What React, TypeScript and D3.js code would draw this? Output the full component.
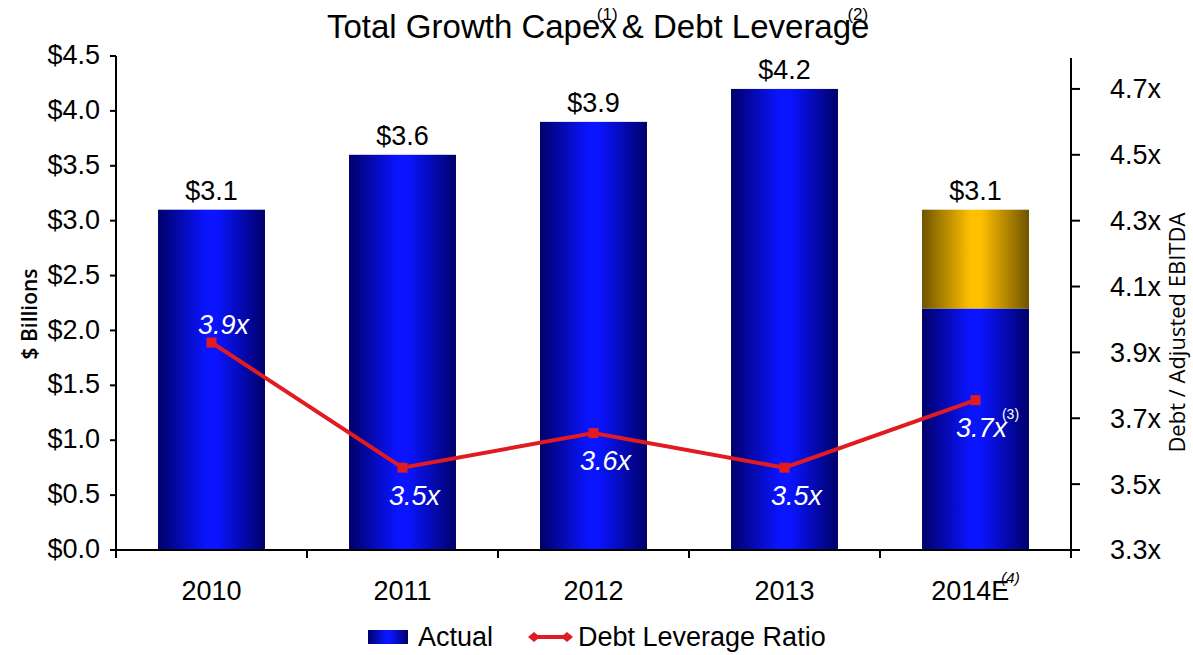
import React from 'react';
import * as d3 from 'd3';

const years = ['2010', '2011', '2012', '2013', '2014E'];
const capexActual = [3.1, 3.6, 3.9, 4.2, 2.2];
const capexEstimate = [0, 0, 0, 0, 0.9];
const capexLabels = ['$3.1', '$3.6', '$3.9', '$4.2', '$3.1'];
const leverage = [3.93, 3.55, 3.655, 3.55, 3.755];
const leverageLabels = ['3.9x', '3.5x', '3.6x', '3.5x', '3.7x'];
const leftTicks = [0, 0.5, 1, 1.5, 2, 2.5, 3, 3.5, 4, 4.5];
const rightTicks = [3.3, 3.5, 3.7, 3.9, 4.1, 4.3, 4.5, 4.7];

const W = 1193;
const H = 655;
const margin = { top: 56, right: 122, bottom: 105, left: 116 };
const FONT = '"Liberation Sans", Arial, sans-serif';
const FS = 27;

const App: React.FC = () => {
  const innerW = W - margin.left - margin.right;
  const innerH = H - margin.top - margin.bottom;

  const x = d3.scaleBand<string>().domain(years).range([0, innerW]).paddingInner(0.44).paddingOuter(0.22);
  const y = d3.scaleLinear().domain([0, 4.5]).range([innerH, 0]);
  const yR = d3.scaleLinear().domain([3.3, 4.8]).range([innerH, 0]);

  const line = d3.line<number>()
    .x((_, i) => x(years[i])! + x.bandwidth() / 2)
    .y(d => yR(d));

  const boundaries = d3.range(years.length + 1).map(i => i * (innerW / years.length));

  return (
    <svg width={W} height={H} style={{ position: 'absolute', left: 0, top: 0, background: '#fff' }} fontFamily={FONT}>
      <defs>
        <linearGradient id="blueGrad" x1="0" x2="1" y1="0" y2="0">
          <stop offset="0" stopColor="#00006a" />
          <stop offset="0.45" stopColor="#0a14ff" />
          <stop offset="0.55" stopColor="#0a14ff" />
          <stop offset="1" stopColor="#00006a" />
        </linearGradient>
        <linearGradient id="goldGrad" x1="0" x2="1" y1="0" y2="0">
          <stop offset="0" stopColor="#6e5400" />
          <stop offset="0.45" stopColor="#ffc000" />
          <stop offset="0.55" stopColor="#ffc000" />
          <stop offset="1" stopColor="#6e5400" />
        </linearGradient>
      </defs>

      {/* Title */}
      <text x={327} y={38} fontSize={33} fill="#000">
        <tspan>Total Growth Capex</tspan>
        <tspan fontSize={17} dx={-20} dy={-18}>(1)</tspan>
        <tspan dx={-5} dy={18}> &amp; Debt Leverage</tspan>
        <tspan fontSize={17} dx={-22} dy={-18}>(2)</tspan>
      </text>

      <g transform={`translate(${margin.left},${margin.top})`}>
        {/* Bars */}
        {years.map((yr, i) => (
          <g key={yr}>
            <rect
              x={x(yr)!}
              y={y(capexActual[i])}
              width={x.bandwidth()}
              height={innerH - y(capexActual[i])}
              fill="url(#blueGrad)"
            />
            {capexEstimate[i] > 0 && (
              <rect
                x={x(yr)!}
                y={y(capexActual[i] + capexEstimate[i])}
                width={x.bandwidth()}
                height={y(capexActual[i]) - y(capexActual[i] + capexEstimate[i])}
                fill="url(#goldGrad)"
              />
            )}
            <text
              x={x(yr)! + x.bandwidth() / 2}
              y={y(capexActual[i] + capexEstimate[i]) - 10}
              textAnchor="middle"
              fontSize={FS}
              fill="#000"
            >
              {capexLabels[i]}
            </text>
          </g>
        ))}

        {/* Left axis */}
        <line x1={0} x2={0} y1={0} y2={innerH + 8} stroke="#000" strokeWidth={2} />
        {leftTicks.map(t => (
          <g key={t} transform={`translate(0,${y(t)})`}>
            <line x1={-6} x2={0} stroke="#000" strokeWidth={2} />
            <text x={-16} dy="0.3em" textAnchor="end" fontSize={FS} fill="#000">
              {`$${t.toFixed(1)}`}
            </text>
          </g>
        ))}

        {/* Right axis */}
        <line x1={innerW} x2={innerW} y1={2} y2={innerH + 8} stroke="#000" strokeWidth={2} />
        {rightTicks.map(t => (
          <g key={t} transform={`translate(${innerW},${yR(t)})`}>
            <line x1={0} x2={9} stroke="#000" strokeWidth={2} />
            <text x={39} dy="0.35em" fontSize={FS} fill="#000">
              {`${t.toFixed(1)}x`}
            </text>
          </g>
        ))}

        {/* X axis */}
        <line x1={0} x2={innerW + 9} y1={innerH} y2={innerH} stroke="#000" strokeWidth={2} />
        {boundaries.map((b, i) => (
          <line key={i} x1={b} x2={b} y1={innerH} y2={innerH + 8} stroke="#000" strokeWidth={2} />
        ))}
        {years.map(yr => (
          <text
            key={yr}
            x={x(yr)! + x.bandwidth() / 2}
            y={innerH + 50}
            textAnchor="middle"
            fontSize={FS}
            fill="#000"
          >
            {yr}
            {yr === '2014E' && (
              <tspan fontSize={15} fontStyle="italic" dx={-8} dy={-17}>(4)</tspan>
            )}
          </text>
        ))}

        {/* Leverage line */}
        <path d={line(leverage) ?? ''} fill="none" stroke="#e01b22" strokeWidth={4} />
        {leverage.map((v, i) => (
          <rect
            key={i}
            x={x(years[i])! + x.bandwidth() / 2 - 5}
            y={yR(v) - 5}
            width={10}
            height={10}
            fill="#e01b22"
          />
        ))}
        {leverage.map((v, i) => (
          <text
            key={i}
            x={x(years[i])! + x.bandwidth() / 2 + 12}
            y={yR(v) + (i === 0 ? -9 : 37)}
            textAnchor="middle"
            fontSize={FS}
            fontStyle="italic"
            fill="#fff"
          >
            {leverageLabels[i]}
            {i === 4 && (
              <tspan fontSize={14} fontStyle="normal" dx={-5} dy={-18}>(3)</tspan>
            )}
          </text>
        ))}
      </g>

      {/* Axis titles */}
      <text
        transform={`translate(37,${margin.top + y(2.15)}) rotate(-90)`}
        textAnchor="middle"
        fontSize={21}
        fontWeight={600}
        fontFamily='"Open Sans", sans-serif'
        fill="#000"
      >
        $ Billions
      </text>
      <text
        transform={`translate(1185,${margin.top + yR(3.96)}) rotate(-90)`}
        textAnchor="middle"
        fontSize={22}
        fontWeight={500}
        fontFamily='"Open Sans", sans-serif'
        fill="#000"
      >
        Debt / Adjusted EBITDA
      </text>

      {/* Legend */}
      <g transform="translate(368,630)">
        <rect x={0} y={0} width={40} height={14} fill="url(#blueGrad)" />
        <text x={50} y={16} fontSize={FS} fill="#000">Actual</text>
        <line x1={162} x2={203} y1={7} y2={7} stroke="#e01b22" strokeWidth={4} />
        <path d="M160,7 L166,2 L172,7 L166,12 Z" fill="#e01b22" />
        <path d="M193,7 L199,2 L205,7 L199,12 Z" fill="#e01b22" />
        <text x={210} y={16} fontSize={FS} fill="#000">Debt Leverage Ratio</text>
      </g>
    </svg>
  );
};

export default App;
